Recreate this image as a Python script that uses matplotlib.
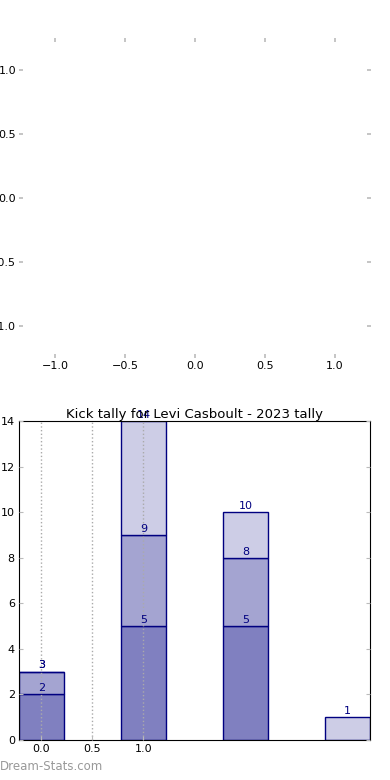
import numpy as np
import matplotlib
matplotlib.use("Agg")
import matplotlib.pyplot as plt

# Kick tally data (per-layer heights)
positions = [0, 1, 2, 3]
layer_dark = [2, 5, 5, 0]
layer_mid = [1, 4, 3, 0]
layer_light = [0, 5, 2, 1]
xtick_vals = [0.0, 0.5, 1.0]
yticks = [0, 2, 4, 6, 8, 10, 12, 14]
title = "Kick tally for Levi Casboult - 2023 tally"

fig = plt.figure(figsize=(3.9, 7.8), dpi=100)

# empty top panel (pie with no data)
ax1 = fig.add_axes([0.059, 0.546, 0.882, 0.4])
ax1.set_xlim(-1.23, 1.23)
ax1.set_ylim(-1.22, 1.22)
for s in ax1.spines.values():
    s.set_visible(False)
ax1.set_xticks([-1.0, -0.5, 0.0, 0.5, 1.0])
ax1.set_yticks([-1.0, -0.5, 0.0, 0.5, 1.0])
ax1.tick_params(color="#bbbbbb", length=3, width=1.2, labelsize=8,
                top=True, right=True, pad=2)

# bottom panel: stacked bars
ax2 = fig.add_axes([0.0487, 0.0513, 0.9, 0.409])
w = 0.44
bot2 = np.array(layer_dark)
bot3 = bot2 + np.array(layer_mid)
top = bot3 + np.array(layer_light)
ax2.bar(positions, layer_dark, w, color="#8080c0", edgecolor="navy", linewidth=1)
ax2.bar(positions, layer_mid, w, bottom=bot2, color="#a4a4d1", edgecolor="navy", linewidth=1)
ax2.bar(positions, layer_light, w, bottom=bot3, color="#cdcde6", edgecolor="navy", linewidth=1)

for x, a, b, c in zip(positions, bot2, bot3, top):
    for v in (a, b, c):
        if v > 0:
            ax2.text(x, v + 0.05, str(v), ha="center", va="bottom",
                     fontsize=8, color="navy")

ax2.set_xlim(-0.22, 3.22)
ax2.set_ylim(0, 14)
ax2.set_xticks(xtick_vals)
ax2.set_yticks(yticks)
ax2.xaxis.grid(True, linestyle=":", color="#aaaaaa", linewidth=1)
ax2.set_axisbelow(False)
ax2.tick_params(color="#bbbbbb", length=3, labelsize=8, right=True,
                direction="in", pad=3)
ax2.set_title(title, fontsize=9.5, pad=2)

fig.text(0.0, 0.0125, "Dream-Stats.com", fontsize=8.5, color="#999999")

fig.savefig("out.png", dpi=100)
